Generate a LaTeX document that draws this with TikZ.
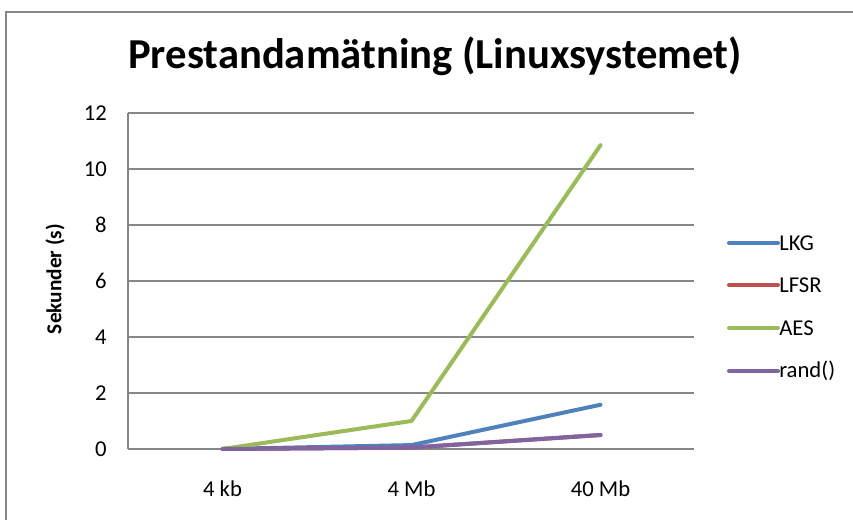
\documentclass[tikz,border=0pt]{standalone}
\usepackage{fontspec}
\setmainfont{Carlito}
\usepackage{xcolor}
\definecolor{lkgblue}{HTML}{4F81BD}
\definecolor{lfsrred}{HTML}{C0504D}
\definecolor{aesgreen}{HTML}{9BBB59}
\definecolor{randpurple}{HTML}{8064A2}
\definecolor{gridgray}{HTML}{878787}

\begin{document}
\begin{tikzpicture}[x=0.75pt,y=0.75pt,yscale=-1,
    gridline/.style={color=gridgray, line width=1pt},
    series/.style={line width=3pt, line cap=round, line join=round},
    ticklabel/.style={inner sep=0.75pt, font=\fontsize{17}{20}\selectfont},
    legendlabel/.style={anchor=west, inner sep=0.75pt, font=\fontsize{17}{20}\selectfont}]
        \useasboundingbox (0,0) rectangle (853,520);
        %Shape: Chart border
        \draw [color=gridgray, line width=1.2pt] (6,540) -- (6,12) -- (870,12) ;

        %Straight Lines: grid
        \foreach \v in {0,2,...,12} {
            \draw [gridline] (128,449-28*\v) -- (694,449-28*\v) ;
            \node [ticklabel, anchor=east] (tick\v) at (108,449-28*\v) {\v};
        }
        \draw [gridline] (128,113) -- (128,449) ;

        %Coordinates: categories
        \coordinate (kb4) at (222.5,449);
        \coordinate (mb4) at (411.5,449);
        \coordinate (mb40) at (600.5,449);

        %Curve Lines: data series
        \draw [series, lkgblue] (kb4) -- ([yshift=-0.14*28*0.75pt]mb4) -- ([yshift=-1.58*28*0.75pt]mb40) ;
        \draw [series, lfsrred] (kb4) -- ([yshift=-0.05*28*0.75pt]mb4) -- ([yshift=-0.5*28*0.75pt]mb40) ;
        \draw [series, aesgreen] (kb4) -- ([yshift=-1.0*28*0.75pt]mb4) -- ([yshift=-10.85*28*0.75pt]mb40) ;
        \draw [series, randpurple] (kb4) -- ([yshift=-0.05*28*0.75pt]mb4) -- ([yshift=-0.5*28*0.75pt]mb40) ;

        % Text Node
        \node [inner sep=0.75pt, anchor=base, font=\bfseries\fontsize{32}{38}\selectfont] (title) at (435,69) {Prestandamätning (Linuxsystemet)};
        % Text Node
        \node [inner sep=0.75pt, rotate=90, font=\bfseries\fontsize{16}{19}\selectfont] (ylabel) at (55,279) {Sekunder (s)};
        % Text Node
        \node [ticklabel] (lab4kb) at (222.5,489) {4 kb};
        \node [ticklabel] (lab4mb) at (411.5,489) {4 Mb};
        \node [ticklabel] (lab40mb) at (600.5,489) {40 Mb};

        %Legend
        \foreach \y/\c/\t/\n in {243/lkgblue/LKG/lkg, 285/lfsrred/LFSR/lfsr, 328/aesgreen/AES/aes, 371/randpurple/rand()/rand} {
            \coordinate (leg\n) at (729,\y);
            \node [legendlabel] (leg\n txt) at (778,\y) {\t};
            \draw [series, \c] (leg\n) -- (leg\n txt.west) ;
        }
\end{tikzpicture}
\end{document}
